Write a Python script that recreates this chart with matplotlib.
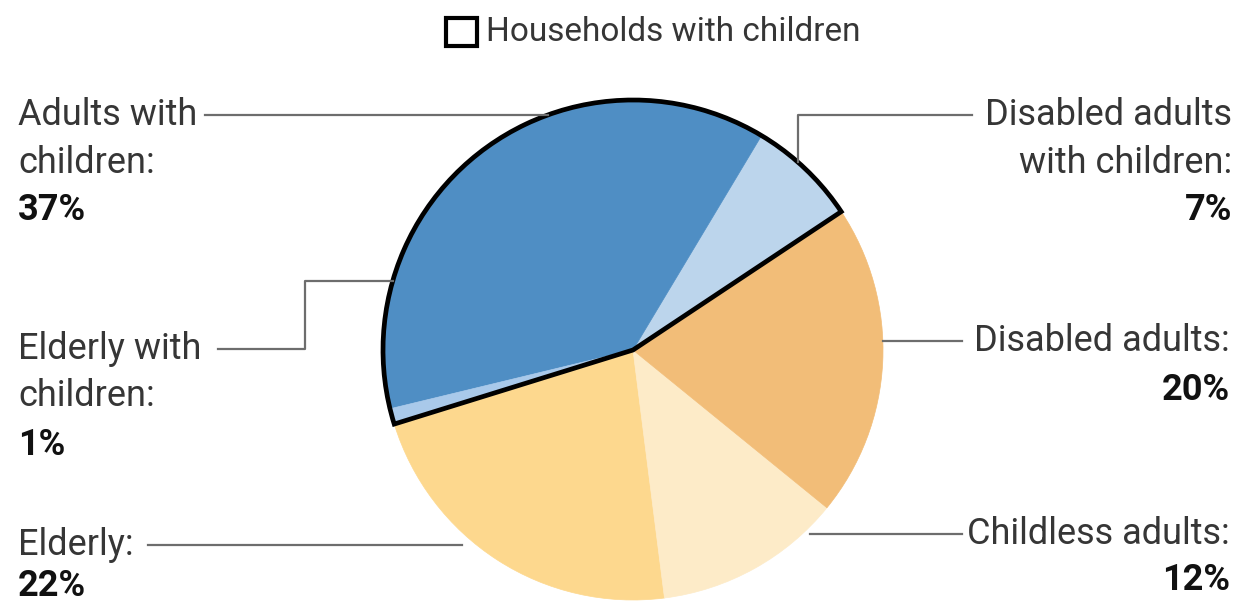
import numpy as np
import matplotlib.pyplot as plt
from matplotlib import font_manager as fm
from matplotlib.patches import Wedge, Rectangle

# data, counter-clockwise from the right side
labels = ["Disabled adults with children", "Adults with children", "Elderly with children",
          "Elderly", "Childless adults", "Disabled adults"]
shares = [7, 37, 1, 22, 12, 20]
colors = ["#bcd5ec", "#4f8ec4", "#a9c9ea", "#fdd88e", "#fdebc8", "#f2bd78"]
with_children = [True, True, True, False, False, False]

names = {f.name for f in fm.fontManager.ttflist}
fam = "Liberation Sans Narrow" if "Liberation Sans Narrow" in names else "Roboto"
plt.rcParams["font.family"] = [fam, "DejaVu Sans"]

W, H = 1249, 605
fig = plt.figure(figsize=(W / 100, H / 100), dpi=100)
ax = fig.add_axes([0, 0, 1, 1])
ax.set_xlim(0, W)
ax.set_ylim(H, 0)
ax.axis("off")

cx, cy, r = 633, 350, 250
start = 33.6

# y axis points down, so angles are flipped when drawing wedges
tot = sum(shares)
ang = start
bounds = []
for val, col in zip(shares, colors):
    span = val / tot * 360
    a1, a2 = ang, ang + span
    ax.add_patch(Wedge((cx, cy), r, -a2, -a1, facecolor=col, edgecolor=col, lw=0.5))
    bounds.append((a1, a2))
    ang = a2

# bold outline around households with children
idx = [i for i, f in enumerate(with_children) if f]
g1, g2 = bounds[idx[0]][0], bounds[idx[-1]][1]
ax.add_patch(Wedge((cx, cy), r, -g2, -g1, fill=False, edgecolor="black", lw=3.4,
                   joinstyle="miter"))


def edge_x(y, side):
    return cx + side * np.sqrt(r ** 2 - (y - cy) ** 2)


def edge_y(x, side):
    return cy + side * np.sqrt(r ** 2 - (x - cx) ** 2)


lc = "#6d6d6d"
lw = 1.6
fs = 26

# left leaders
ax.plot([205, edge_x(115, -1)], [115, 115], color=lc, lw=lw)
ax.plot([218, 305, 305, edge_x(281, -1)], [349, 349, 281, 281], color=lc, lw=lw)
ax.plot([148, 462], [545, 545], color=lc, lw=lw)
# right leaders
ax.plot([972, 798, 798], [115, 115, edge_y(798, -1)], color=lc, lw=lw)
ax.plot([edge_x(341, 1), 962], [341, 341], color=lc, lw=lw)
ax.plot([810, 962], [534, 534], color=lc, lw=lw)

tc = "#363636"


def label(x, ys, lines, pct, ha):
    for y, t in zip(ys, lines):
        ax.text(x, y, t, ha=ha, va="center", fontsize=fs, color=tc)
    ax.text(x, ys[len(lines)], pct, ha=ha, va="center", fontsize=fs, color="#111111",
            fontweight="bold")


label(18, [115, 163, 210], ["Adults with", "children:"], "37%", "left")
label(18, [349, 396, 445], ["Elderly with", "children:"], "1%", "left")
label(18, [545, 586], ["Elderly:"], "22%", "left")
label(1232, [115, 163, 210], ["Disabled adults", "with children:"], "7%", "right")
label(1230, [341, 390], ["Disabled adults:"], "20%", "right")
label(1230, [534, 580], ["Childless adults:"], "12%", "right")

# legend
ax.add_patch(Rectangle((446, 18), 31, 28, facecolor="white", edgecolor="black", lw=3))
ax.text(486, 32, "Households with children", ha="left", va="center", fontsize=24, color=tc)

fig.savefig("out.png", dpi=100)
